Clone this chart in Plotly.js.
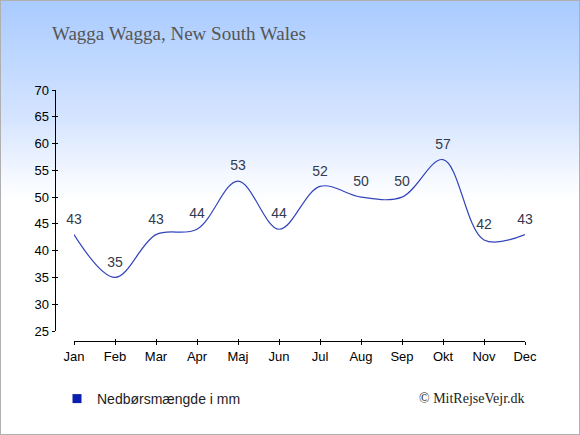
<!DOCTYPE html>
<html>
<head>
<meta charset="utf-8">
<script src="https://cdn.plot.ly/plotly-3.0.1.min.js"></script>
<style>
  html, body { margin: 0; padding: 0; }
  #wrap {
    width: 580px; height: 435px; box-sizing: border-box;
    border: 1px solid #b0b0b0;
    background: linear-gradient(to bottom, #a9cbff 0px, #d6e5ff 120px, #f4f8ff 175px, #ffffff 200px, #ffffff 435px);
    position: relative; overflow: hidden;
  }
  #chart { position: absolute; left: -1px; top: -1px; width: 580px; height: 435px; }
</style>
</head>
<body>
<div id="wrap"><div id="chart"></div></div>
<script>
const months = ["Jan","Feb","Mar","Apr","Maj","Jun","Jul","Aug","Sep","Okt","Nov","Dec"];
const precipitation = [43, 35, 43, 44, 53, 44, 52, 50, 50, 57, 42, 43];
const yTicks = [25, 30, 35, 40, 45, 50, 55, 60, 65, 70];
const seriesName = "Nedbørsmængde i mm";
const chartTitle = "Wagga Wagga, New South Wales";
const credit = "© MitRejseVejr.dk";

const W = 580, H = 435;
const idx = months.map((m, i) => i);

const traces = [
  {
    x: idx, y: precipitation,
    mode: "lines+markers+text",
    line: { shape: "spline", smoothing: 1, color: "#3344bb", width: 1.2 },
    marker: { size: 10, color: "rgba(0,0,0,0)" },
    text: precipitation.map(String),
    textposition: "top center",
    textfont: { family: "Arial, Liberation Sans, sans-serif", size: 14, color: "#333a4d" },
    cliponaxis: false,
    showlegend: false,
    hoverinfo: "x+y"
  },
  {
    x: [idx[0]], y: [precipitation[0]],
    xaxis: "x2", yaxis: "y2",
    mode: "markers", marker: { size: 1, color: "rgba(0,0,0,0)" },
    showlegend: false, hoverinfo: "skip"
  },
  {
    x: [null], y: [null],
    mode: "markers",
    name: seriesName,
    marker: { symbol: "square", size: 9, color: "#0a1fad" },
    showlegend: true
  }
];

const xDomain = [74 / W, 525 / W];
const yDomain = [1 - 331 / H, 1 - 90 / H];
const xPos = 1 - 341 / H;
const yPos = 54.5 / W;
const tickFont = { family: "Arial, Liberation Sans, sans-serif", size: 13, color: "#000" };

const layout = {
  width: W, height: H,
  margin: { l: 0, r: 0, t: 0, b: 0 },
  paper_bgcolor: "rgba(0,0,0,0)",
  plot_bgcolor: "rgba(0,0,0,0)",
  title: {
    text: chartTitle,
    font: { family: "Liberation Serif, Georgia, serif", size: 19, color: "#555555" },
    x: 52 / W, xanchor: "left", xref: "paper",
    y: 1 - 33 / H, yanchor: "middle", yref: "paper"
  },
  xaxis: {
    domain: xDomain, range: [0, 11],
    tickvals: idx, ticktext: months,
    anchor: "free", position: xPos,
    showline: true, linecolor: "#000", linewidth: 1,
    ticks: "outside", ticklen: 3, tickcolor: "#000", tickwidth: 1,
    showgrid: false, zeroline: false,
    tickfont: tickFont, fixedrange: true
  },
  xaxis2: {
    overlaying: "x", domain: xDomain, range: [0, 11],
    tickvals: idx, anchor: "free", position: xPos,
    showline: false, ticks: "inside", ticklen: 2, tickcolor: "#000", tickwidth: 1,
    showticklabels: false, showgrid: false, zeroline: false
  },
  yaxis: {
    domain: yDomain, range: [25, 70],
    tickvals: yTicks,
    anchor: "free", position: yPos,
    showline: true, linecolor: "#000", linewidth: 1,
    ticks: "outside", ticklen: 3, tickcolor: "#000", tickwidth: 1,
    showgrid: false, zeroline: false,
    tickfont: tickFont, fixedrange: true
  },
  yaxis2: {
    overlaying: "y", domain: yDomain, range: [25, 70],
    tickvals: yTicks, anchor: "free", position: yPos,
    showline: false, ticks: "inside", ticklen: 2, tickcolor: "#000", tickwidth: 1,
    showticklabels: false, showgrid: false, zeroline: false
  },
  showlegend: true,
  legend: {
    x: 57 / W, xanchor: "left",
    y: 1 - 399 / H, yanchor: "middle",
    bgcolor: "rgba(0,0,0,0)",
    font: { family: "Arial, Liberation Sans, sans-serif", size: 14, color: "#222" }
  },
  annotations: [
    {
      text: credit, xref: "paper", yref: "paper",
      x: 472 / W, y: 1 - 398 / H, xanchor: "center", yanchor: "middle",
      showarrow: false,
      font: { family: "Liberation Serif, Georgia, serif", size: 14, color: "#222" }
    }
  ]
};

Plotly.newPlot("chart", traces, layout, { displayModeBar: false, staticPlot: true });
</script>
</body>
</html>
